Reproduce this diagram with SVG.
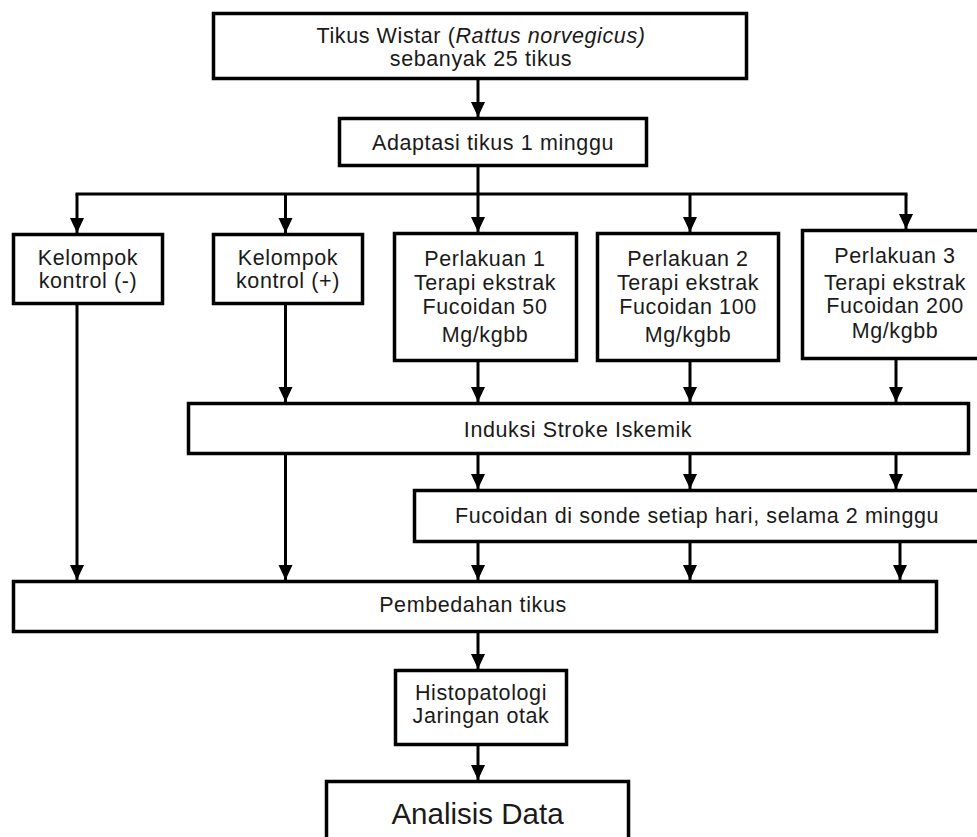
<svg xmlns="http://www.w3.org/2000/svg" width="977" height="837" viewBox="0 0 977 837">
<style>
.box{fill:#fff;stroke:#000;stroke-width:3.5}
.ln{fill:none;stroke:#000;stroke-width:3}
text{font-family:"Liberation Sans",Arial,sans-serif;font-size:21.5px;letter-spacing:0.6px;fill:#1a1a1a;text-anchor:middle}
</style>
<defs>
<marker id="ah" markerUnits="userSpaceOnUse" markerWidth="16" markerHeight="16" viewBox="0 0 16 16" refX="15" refY="8" orient="auto">
<path d="M0,1 L15,8 L0,15 Z" fill="#000"/>
</marker>
</defs>
<rect width="977" height="837" fill="#fff"/>
<g id="connectors">
<line class="ln" x1="478" y1="80" x2="478" y2="117" marker-end="url(#ah)"/>
<line class="ln" x1="478" y1="167" x2="478" y2="194"/>
<line class="ln" x1="75.5" y1="194" x2="907.5" y2="194"/>
<line class="ln" x1="77" y1="194" x2="77" y2="233" marker-end="url(#ah)"/>
<line class="ln" x1="285.5" y1="194" x2="285.5" y2="233" marker-end="url(#ah)"/>
<line class="ln" x1="478" y1="194" x2="478" y2="232" marker-end="url(#ah)"/>
<line class="ln" x1="690" y1="194" x2="690" y2="232" marker-end="url(#ah)"/>
<line class="ln" x1="906" y1="194" x2="906" y2="229" marker-end="url(#ah)"/>
<line class="ln" x1="77" y1="305" x2="77" y2="580" marker-end="url(#ah)"/>
<line class="ln" x1="285.5" y1="305" x2="285.5" y2="402" marker-end="url(#ah)"/>
<line class="ln" x1="478" y1="362" x2="478" y2="402" marker-end="url(#ah)"/>
<line class="ln" x1="690" y1="362" x2="690" y2="402" marker-end="url(#ah)"/>
<line class="ln" x1="896" y1="360" x2="896" y2="402" marker-end="url(#ah)"/>
<line class="ln" x1="285.5" y1="455" x2="285.5" y2="580" marker-end="url(#ah)"/>
<line class="ln" x1="478" y1="455" x2="478" y2="489" marker-end="url(#ah)"/>
<line class="ln" x1="690" y1="455" x2="690" y2="489" marker-end="url(#ah)"/>
<line class="ln" x1="896" y1="455" x2="896" y2="489" marker-end="url(#ah)"/>
<line class="ln" x1="478" y1="543" x2="478" y2="580" marker-end="url(#ah)"/>
<line class="ln" x1="690" y1="543" x2="690" y2="580" marker-end="url(#ah)"/>
<line class="ln" x1="900" y1="543" x2="900" y2="580" marker-end="url(#ah)"/>
<line class="ln" x1="478" y1="633" x2="478" y2="669" marker-end="url(#ah)"/>
<line class="ln" x1="478" y1="746" x2="478" y2="780" marker-end="url(#ah)"/>
</g>
<g id="n-tikus">
<rect class="box" x="213.5" y="13.5" width="533" height="65"/>
<text x="481" y="43">Tikus Wistar (<tspan font-style="italic">Rattus norvegicus)</tspan></text>
<text x="481" y="66">sebanyak 25 tikus</text>
</g>
<g id="n-adaptasi">
<rect class="box" x="339.5" y="118.5" width="307" height="47"/>
<text x="493" y="150">Adaptasi tikus 1 minggu</text>
</g>
<g id="n-kontrol-neg">
<rect class="box" x="13.5" y="234.5" width="149" height="69"/>
<text x="88" y="265">Kelompok</text>
<text x="88" y="288">kontrol (-)</text>
</g>
<g id="n-kontrol-pos">
<rect class="box" x="213.5" y="234.5" width="149" height="69"/>
<text x="288" y="265">Kelompok</text>
<text x="288" y="288">kontrol (+)</text>
</g>
<g id="n-perlakuan1">
<rect class="box" x="394.5" y="233.5" width="182" height="127"/>
<text x="485" y="266">Perlakuan 1</text>
<text x="485" y="290">Terapi ekstrak</text>
<text x="485" y="314">Fucoidan 50</text>
<text x="485" y="342">Mg/kgbb</text>
</g>
<g id="n-perlakuan2">
<rect class="box" x="597.5" y="233.5" width="181" height="127"/>
<text x="688" y="266">Perlakuan 2</text>
<text x="688" y="290">Terapi ekstrak</text>
<text x="688" y="314">Fucoidan 100</text>
<text x="688" y="342">Mg/kgbb</text>
</g>
<g id="n-perlakuan3">
<rect class="box" x="802.5" y="230.5" width="190" height="128"/>
<text x="895" y="263">Perlakuan 3</text>
<text x="895" y="290">Terapi ekstrak</text>
<text x="895" y="313">Fucoidan 200</text>
<text x="895" y="338">Mg/kgbb</text>
</g>
<g id="n-induksi">
<rect class="box" x="188.5" y="403.5" width="780" height="50"/>
<text x="578" y="437">Induksi Stroke Iskemik</text>
</g>
<g id="n-fucoidan">
<rect class="box" x="414.5" y="490.5" width="580" height="51"/>
<text x="697" y="523">Fucoidan di sonde setiap hari, selama 2 minggu</text>
</g>
<g id="n-pembedahan">
<rect class="box" x="13.5" y="581.5" width="923" height="50"/>
<text x="473" y="612">Pembedahan tikus</text>
</g>
<g id="n-histopatologi">
<rect class="box" x="395.5" y="670.5" width="171" height="74"/>
<text x="481" y="700">Histopatologi</text>
<text x="481" y="723">Jaringan otak</text>
</g>
<g id="n-analisis">
<rect class="box" x="326.5" y="781.5" width="302" height="70"/>
<text x="477.5" y="824" style="font-size:29.5px;letter-spacing:0">Analisis Data</text>
</g>
</svg>
